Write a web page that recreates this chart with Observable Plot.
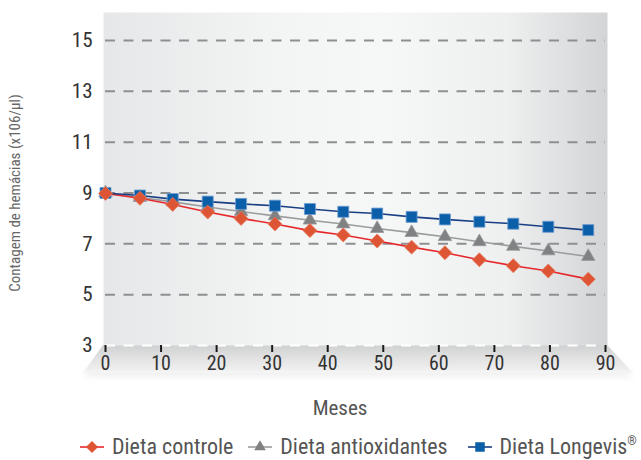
<!DOCTYPE html>
<html>
<head>
<meta charset="utf-8">
<script src="https://cdn.jsdelivr.net/npm/d3@7"></script>
<script src="https://cdn.jsdelivr.net/npm/@observablehq/plot@0.6"></script>
<style>
  html, body { margin: 0; padding: 0; background: #fff; }
  #wrap { position: relative; width: 641px; height: 460px; font-family: "Liberation Sans Narrow", "Roboto Condensed", "DejaVu Sans Condensed", sans-serif; }
  #ytitle { position: absolute; left: 15px; top: 193px; transform: translate(-50%, -50%) rotate(-90deg); white-space: nowrap; font-size: 15px; color: #666; }
  #xtitle { position: absolute; left: 340px; top: 408px; transform: translate(-50%, -50%); font-size: 21px; color: #555; }
  #legend { position: absolute; left: 0; width: 641px; top: 434px; display: flex; justify-content: flex-start; align-items: center; font-size: 22px; color: #555; padding-left: 80px; box-sizing: border-box; white-space: nowrap; }
  .item { display: flex; align-items: center; }
  .item svg { margin-right: 8px; }
  sup { font-size: 12px; vertical-align: 9px; line-height: 0; }
</style>
</head>
<body>
<div id="wrap">
  <div id="chart"></div>
  <div id="ytitle">Contagem de hemácias (x106/µl)</div>
  <div id="xtitle">Meses</div>
  <div id="legend"></div>
</div>
<script>
const months = [0, 6.2, 12.1, 18.4, 24.4, 30.5, 36.8, 42.8, 48.9, 55.1, 61.1, 67.3, 73.4, 79.7, 86.9];
const controle = [8.98, 8.79, 8.55, 8.25, 8.0, 7.78, 7.52, 7.35, 7.11, 6.87, 6.65, 6.37, 6.14, 5.93, 5.61];
const antioxidantes = [9.0, 8.82, 8.65, 8.45, 8.27, 8.1, 7.93, 7.78, 7.6, 7.44, 7.28, 7.08, 6.9, 6.72, 6.5];
const longevis = [9.0, 8.9, 8.76, 8.66, 8.57, 8.5, 8.37, 8.26, 8.19, 8.06, 7.96, 7.87, 7.79, 7.67, 7.54];
const seriesNames = ["Dieta controle", "Dieta antioxidantes", "Dieta Longevis"];
const yTicks = [3, 5, 7, 9, 11, 13, 15];
const xTicks = [0, 10, 20, 30, 40, 50, 60, 70, 80, 90];

const styles = {
  "Dieta controle": {line: "#e6282d", fill: "#de5535", stroke: "#e77a5c", symbol: "diamond2", r: 6.3},
  "Dieta antioxidantes": {line: "#9b9c9e", fill: "#808183", stroke: "#9a9b9d", symbol: "triangle", r: 5},
  "Dieta Longevis": {line: "#1a3f84", fill: "#0b5ea8", stroke: "#6b9bd0", symbol: "square", r: 6.2}
};

const values = [controle, antioxidantes, longevis];
const rows = [];
seriesNames.forEach((s, i) => months.forEach((m, j) => rows.push({series: s, month: m, value: values[i][j]})));

const defs = () => {
  const d = d3.create("svg:defs");
  const g = d.append("linearGradient").attr("id", "bg").attr("x1", 0).attr("x2", 1).attr("y1", 0).attr("y2", 0);
  [[0, "#e6e7e8"], [0.35, "#f3f4f4"], [0.55, "#f6f7f7"], [0.8, "#eeefef"], [1, "#d3d4d6"]].forEach(([o, c]) => g.append("stop").attr("offset", o).attr("stop-color", c));
  const f = d.append("linearGradient").attr("id", "floor").attr("x1", 0).attr("x2", 0).attr("y1", 0).attr("y2", 1);
  [[0, "#cfd0d1"], [0.5, "#e3e3e4"], [0.85, "#eeeeee"], [1, "#f6f6f6"]].forEach(([o, c]) => f.append("stop").attr("offset", o).attr("stop-color", c));
  const blur = d.append("filter").attr("id", "soft").attr("x", "-10%").attr("y", "-50%").attr("width", "120%").attr("height", "200%");
  blur.append("feGaussianBlur").attr("stdDeviation", 3);
  return d.node();
};

const floor = (index, scales) => {
  const x0 = scales.x(0) - 2, x1 = scales.x(90) + 2, y0 = scales.y(3);
  const g = d3.create("svg:g");
  const pts = [[x0, y0], [x1, y0], [x1 + 26, y0 + 28], [x0 - 20, y0 + 28]];
  g.append("polygon").attr("points", pts.map(p => p.join(",")).join(" ")).attr("transform", "translate(0,4)").attr("fill", "#000").attr("fill-opacity", 0.06).attr("filter", "url(#soft)");
  g.append("polygon").attr("points", pts.map(p => p.join(",")).join(" ")).attr("fill", "url(#floor)");
  return g.node();
};

const marks = [defs, floor,
  Plot.frame({fill: "url(#bg)", stroke: "none", insetLeft: -2, insetRight: -2}),
  Plot.gridY(yTicks.filter(t => t > 3), {stroke: "#8e8f91", strokeOpacity: 1, strokeWidth: 2, strokeDasharray: "10,8.5"}),
  Plot.gridY([3], {stroke: "#ffffff", strokeOpacity: 1, strokeWidth: 2, strokeDasharray: "10,8.5"}),
  Plot.axisY(yTicks, {tickSize: 0, tickPadding: 13, fontSize: 21, fill: "#333", label: null}),
  Plot.axisX(xTicks, {tickSize: 7, tickPadding: 3, fontSize: 20, fill: "#333", stroke: "#1a1a1a", strokeWidth: 2, label: null})
];
for (const s of ["Dieta antioxidantes", "Dieta controle", "Dieta Longevis"]) {
  const st = styles[s];
  marks.push(Plot.line(rows.filter(d => d.series === s), {x: "month", y: "value", stroke: st.line, strokeWidth: 1.6}));
}
for (const s of ["Dieta antioxidantes", "Dieta Longevis", "Dieta controle"]) {
  const st = styles[s];
  marks.push(Plot.dot(rows.filter(d => d.series === s), {x: "month", y: "value", symbol: () => st.symbol, r: st.r, fill: st.fill, stroke: st.stroke, strokeWidth: 0.8}));
}

const chart = Plot.plot({
  width: 641,
  height: 385,
  marginLeft: 105,
  marginRight: 36,
  marginTop: 12,
  marginBottom: 40,
  style: {fontFamily: '"Liberation Sans Narrow", "Roboto Condensed", "DejaVu Sans Condensed", sans-serif', background: "transparent", overflow: "visible"},
  x: {domain: [0, 90], axis: null},
  y: {domain: [3, 16.1], axis: null},
  symbol: {type: "identity"},
  marks
});
document.getElementById("chart").appendChild(chart);

// legend
const leg = document.getElementById("legend");
const gaps = [15, 20, 0];
seriesNames.forEach((s, i) => {
  const st = styles[s];
  const item = document.createElement("div");
  item.className = "item";
  item.style.marginRight = gaps[i] + "px";
  const svg = d3.create("svg").attr("width", 24).attr("height", 18);
  svg.append("line").attr("x1", 0).attr("x2", 24).attr("y1", 9).attr("y2", 9).attr("stroke", st.line).attr("stroke-width", 1.6);
  const sym = {diamond2: d3.symbolDiamond2, triangle: d3.symbolTriangle, square: d3.symbolSquare}[st.symbol];
  svg.append("path").attr("d", d3.symbol(sym, Math.PI * st.r * st.r * 0.75)()).attr("transform", "translate(12,9)").attr("fill", st.fill);
  item.appendChild(svg.node());
  const t = document.createElement("span");
  t.textContent = s;
  if (i === 2) { const sup = document.createElement("sup"); sup.textContent = "®"; t.appendChild(sup); }
  item.appendChild(t);
  leg.appendChild(item);
});
</script>
</body>
</html>
